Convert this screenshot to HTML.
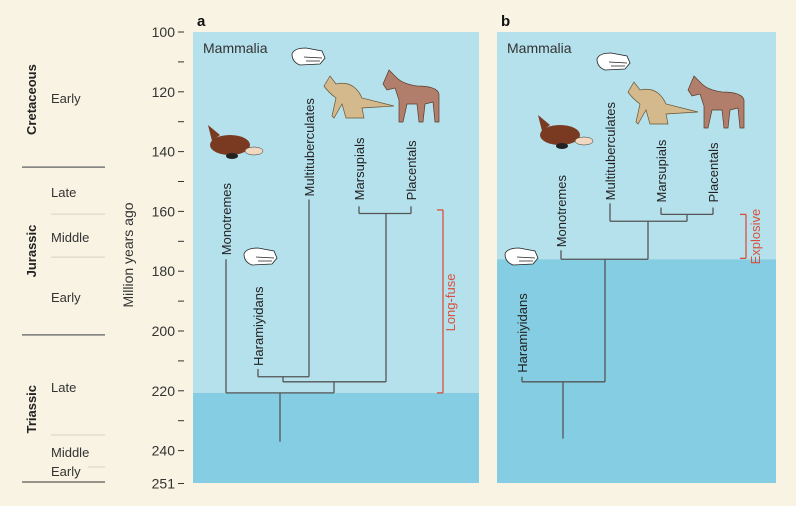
<!DOCTYPE html>
<html><head><meta charset="utf-8"><style>
html,body{margin:0;padding:0;background:#f8f3e3;}
svg{display:block;font-family:"Liberation Sans",sans-serif;}
</style></head><body>
<svg id="chart" width="796" height="506" viewBox="0 0 796 506" xmlns="http://www.w3.org/2000/svg">
<rect width="796" height="506" fill="#f8f3e3"/>
<g id="periods"></g>
<g id="axis"></g>
<g id="panels"></g>
</svg>
<script>
const NS="http://www.w3.org/2000/svg";
const yTicks=[100,110,120,130,140,150,160,170,180,190,200,210,220,230,240,251];
const yTickLabels=["100","","120","","140","","160","","180","","200","","220","","240","251"];
const periodNames=["Cretaceous","Jurassic","Triassic"];
const periodBounds=[[100,145.2],[145.2,201.3],[201.3,251]];
const epochNames=["Early","Late","Middle","Early","Late","Middle","Early"];
const epochBounds=[[100,145.2],[145.2,160.9],[160.9,175.3],[175.3,201.3],[201.3,234.8],[234.8,245.5],[245.5,251]];
// panel a ages (Myr ago)
const aNodes={root:237,crown:220.7,allo:217,haramMulti:215.3,theria:160.7,monoTip:176,haramTip:212.7,multiTip:156,marTip:158.3,plaTip:158.3};
const aBracket=[159.5,220.7];
const aSplit=[220.7];
// panel b ages
const bNodes={root:236,base:217,crown:176,multiTheria:163.3,theria:161,monoTip:173,haramTip:215.3,multiTip:157.3,marTip:158.7,plaTip:158.7};
const bBracket=[161,175.7];
const bSplit=[176];

function y(m){return 32+(m-100)*2.99;}
function el(tag,attrs,parent,text){const e=document.createElementNS(NS,tag);for(const k in attrs)e.setAttribute(k,attrs[k]);if(text!==undefined)e.textContent=text;parent.appendChild(e);return e;}

const axis=document.getElementById('axis');
yTicks.forEach((t,i)=>{
  const tk=el('line',{x1:178,x2:184,y1:y(t),y2:y(t),stroke:'#333','stroke-width':1},axis);
  
  
  if(yTickLabels[i]){
    const tx=el('text',{x:175,y:y(t)+5,'text-anchor':'end','font-size':14,fill:'#333'},axis,yTickLabels[i]);
    
    
  }
});
const at=el('text',{x:0,y:0,transform:'translate(133,255) rotate(-90)','text-anchor':'middle','font-size':14,fill:'#333'},axis,'Million years ago');



const per=document.getElementById('periods');
periodBounds.forEach((b,i)=>{
  const c=(y(b[0])+y(b[1]))/2;
  const t=el('text',{transform:`translate(36,${c}) rotate(-90)`,'text-anchor':'middle','font-size':13,'font-weight':'bold',fill:'#222'},per,periodNames[i]);
  
  
  if(i<2){const l=el('line',{x1:22,x2:105,y1:y(b[1]),y2:y(b[1]),stroke:'#777','stroke-width':1.5},per);
    
    }
});
el('line',{x1:22,x2:105,y1:482,y2:482,stroke:'#333','stroke-width':1},per);
const epochLabelY=[98,192,237,297,387,452,471];
epochBounds.forEach((b,i)=>{
  const t=el('text',{x:51,y:epochLabelY[i]+5,'font-size':13,fill:'#333'},per,epochNames[i]);
  
  
  if([1,2,4,5].includes(i)){const l=el('line',{x1:i===5?88:51,x2:105,y1:y(b[1]),y2:y(b[1]),stroke:'#d6d2c4','stroke-width':1},per);
    
    }
});

const panels=document.getElementById('panels');
function skull(g,x,yy,s){
  el('path',{d:`M${x} ${yy+6} Q${x+2} ${yy} ${x+14} ${yy} L${x+30} ${yy+3} L${x+33} ${yy+10} L${x+28} ${yy+16} L${x+8} ${yy+17} Q${x} ${yy+14} ${x} ${yy+6}Z`,fill:'#fff',stroke:'#222','stroke-width':0.8},g);
  el('path',{d:`M${x+12} ${yy+9} L${x+30} ${yy+10} M${x+14} ${yy+13} L${x+28} ${yy+13}`,stroke:'#222','stroke-width':0.7},g);
}
function platypus(g,x,yy){
  el('ellipse',{cx:x+20,cy:yy+20,rx:20,ry:10,fill:'#7a3a22'},g);
  el('path',{d:`M${x+2} ${yy+16} L${x-2} ${yy} L${x+10} ${yy+10}Z`,fill:'#7a3a22'},g);
  el('ellipse',{cx:x+44,cy:yy+26,rx:9,ry:4,fill:'#f2d8c0',stroke:'#333','stroke-width':0.5},g);
  el('ellipse',{cx:x+22,cy:yy+31,rx:6,ry:3,fill:'#222'},g);
}
function kangaroo(g,x,yy){
  el('path',{d:`M${x} ${yy+10} L${x+6} ${yy} L${x+12} ${yy+8} Q${x+30} ${yy+4} ${x+38} ${yy+22} L${x+70} ${yy+30} L${x+38} ${yy+32} L${x+40} ${yy+42} L${x+22} ${yy+42} L${x+18} ${yy+28} L${x+10} ${yy+42} L${x+8} ${yy+40} L${x+12} ${yy+22} Q${x+4} ${yy+16} ${x} ${yy+10}Z`,fill:'#d4b98c',stroke:'#6a5535','stroke-width':0.7},g);
}
function horse(g,x,yy){
  el('path',{d:`M${x} ${yy+14} L${x+6} ${yy} L${x+14} ${yy+8} Q${x+20} ${yy+14} ${x+34} ${yy+16} Q${x+54} ${yy+16} ${x+56} ${yy+24} L${x+56} ${yy+52} L${x+52} ${yy+52} L${x+50} ${yy+32} L${x+42} ${yy+34} L${x+40} ${yy+52} L${x+36} ${yy+52} L${x+34} ${yy+34} L${x+24} ${yy+34} L${x+20} ${yy+52} L${x+16} ${yy+52} L${x+16} ${yy+30} L${x+12} ${yy+18} L${x+4} ${yy+20}Z`,fill:'#b07e6a',stroke:'#5a3a2a','stroke-width':0.7},g);
}
function seg(g,x1,y1,x2,y2,c,name){const l=el('line',{x1:x1,y1:y1,x2:x2,y2:y2,stroke:c||'#555','stroke-width':1.3},g);return l;}
function label(g,x,bottom,txt,name,col){const t=el('text',{transform:`translate(${x+5},${bottom}) rotate(-90)`,'font-size':13,fill:col||'#222'},g,txt);return t;}

function panel(id,x0,x1,split){
  const g=el('g',{},panels);
  
  
  el('rect',{x:x0,y:32,width:x1-x0,height:y(split)-32,fill:'#b5e1ec'},g);
  el('rect',{x:x0,y:y(split),width:x1-x0,height:483-y(split),fill:'#84cde3'},g);
  const pl=el('text',{x:x0+4,y:26,'font-size':15,'font-weight':'bold',fill:'#111'},g,id);
  
  
  const ml=el('text',{x:x0+10,y:53,'font-size':14,fill:'#333'},g,'Mammalia');
  
  
  return g;
}
// Panel a
{
  const g=panel('a',193,479,aSplit[0]);
  const N=aNodes, X={mono:226,haram:258,multi:309,mar:359,pla:411,hm:283,allo:334,th:386,root:280};
  seg(g,X.root,y(N.root),X.root,y(N.crown));
  seg(g,X.mono,y(N.crown),X.allo,y(N.crown));
  seg(g,X.mono,y(N.crown),X.mono,y(N.monoTip),'#555','monotremes-branch');
  seg(g,X.allo,y(N.crown),X.allo,y(N.allo));
  seg(g,X.hm,y(N.allo),X.th,y(N.allo));
  seg(g,X.hm,y(N.allo),X.hm,y(N.haramMulti));
  seg(g,X.haram,y(N.haramMulti),X.multi,y(N.haramMulti));
  seg(g,X.haram,y(N.haramMulti),X.haram,y(N.haramTip),'#555','haramiyidans-branch');
  seg(g,X.multi,y(N.haramMulti),X.multi,y(N.multiTip),'#555','multituberculates-branch');
  seg(g,X.th,y(N.allo),X.th,y(N.theria));
  seg(g,X.mar,y(N.theria),X.pla,y(N.theria));
  seg(g,X.mar,y(N.theria),X.mar,y(N.marTip),'#555','marsupials-branch');
  seg(g,X.pla,y(N.theria),X.pla,y(N.plaTip),'#555','placentals-branch');
  seg(g,443,y(aBracket[0]),443,y(aBracket[1]),'#d9503a','long-fuse-bracket');
  seg(g,437,y(aBracket[0]),443,y(aBracket[0]),'#d9503a');
  seg(g,437,y(aBracket[1]),443,y(aBracket[1]),'#d9503a');
  label(g,X.mono,y(N.monoTip)-4,'Monotremes','monotremes-label');
  label(g,X.haram,y(N.haramTip)-3,'Haramiyidans','haramiyidans-label');
  label(g,X.multi,y(N.multiTip)-3,'Multituberculates','multituberculates-label');
  label(g,X.mar,y(N.marTip)-6,'Marsupials','marsupials-label');
  label(g,X.pla,y(N.plaTip)-6,'Placentals','placentals-label');
  label(g,443+7,(y(aBracket[0])+y(aBracket[1]))/2+30,'Long-fuse','long-fuse-label','#d9503a');
  skull(g,292,48); skull(g,244,248); platypus(g,210,125); kangaroo(g,324,76); horse(g,383,70);
}
// Panel b
{
  const g=panel('b',497,776,bSplit[0]);
  const N=bNodes, X={haram:522,root:563,mono:561,multi:610,mar:661,pla:713,crown:605,mt:648,th:687};
  seg(g,X.root,y(N.root),X.root,y(N.base));
  seg(g,X.haram,y(N.base),X.crown,y(N.base));
  seg(g,X.haram,y(N.base),X.haram,y(N.haramTip),'#555','haramiyidans-branch');
  seg(g,X.crown,y(N.base),X.crown,y(N.crown));
  seg(g,X.mono,y(N.crown),X.mt,y(N.crown));
  seg(g,X.mono,y(N.crown),X.mono,y(N.monoTip),'#555','monotremes-branch');
  seg(g,X.mt,y(N.crown),X.mt,y(N.multiTheria));
  seg(g,X.multi,y(N.multiTheria),X.th,y(N.multiTheria));
  seg(g,X.multi,y(N.multiTheria),X.multi,y(N.multiTip),'#555','multituberculates-branch');
  seg(g,X.th,y(N.multiTheria),X.th,y(N.theria));
  seg(g,X.mar,y(N.theria),X.pla,y(N.theria));
  seg(g,X.mar,y(N.theria),X.mar,y(N.marTip),'#555','marsupials-branch');
  seg(g,X.pla,y(N.theria),X.pla,y(N.plaTip),'#555','placentals-branch');
  seg(g,746,y(bBracket[0]),746,y(bBracket[1]),'#d9503a','explosive-bracket');
  seg(g,740,y(bBracket[0]),746,y(bBracket[0]),'#d9503a');
  seg(g,740,y(bBracket[1]),746,y(bBracket[1]),'#d9503a');
  label(g,X.mono,y(N.monoTip)-3,'Monotremes','monotremes-label');
  label(g,X.haram,y(N.haramTip)-4,'Haramiyidans','haramiyidans-label');
  label(g,X.multi,y(N.multiTip)-3,'Multituberculates','multituberculates-label');
  label(g,X.mar,y(N.marTip)-5,'Marsupials','marsupials-label');
  label(g,X.pla,y(N.plaTip)-5,'Placentals','placentals-label');
  label(g,746+9,(y(bBracket[0])+y(bBracket[1]))/2+28,'Explosive','explosive-label','#d9503a');
  skull(g,597,53); skull(g,505,248); platypus(g,540,115); kangaroo(g,628,82); horse(g,688,76);
}
</script>
</body></html>
